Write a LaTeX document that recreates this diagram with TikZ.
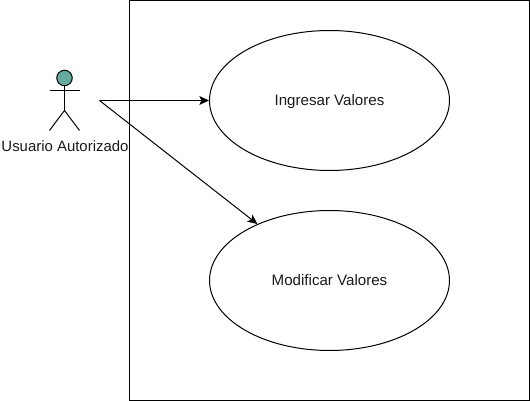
\documentclass[tikz,border=0pt]{standalone}
\usepackage{fontspec}
\setmainfont{Liberation Sans}
\usetikzlibrary{shapes.geometric,arrows.meta}
\definecolor{actorgreen}{HTML}{67AB9F}
\definecolor{labelgray}{HTML}{1A1A1A}
\tikzset{
    usecase/.style={draw, ellipse, minimum width=4.8cm, minimum height=2.8cm, inner sep=0pt, text height=7.2pt, text depth=1.8pt, text=labelgray, node font=\fontsize{8.6}{10}\selectfont},
    actorlabel/.style={draw=none, inner sep=0pt, text=labelgray, node font=\fontsize{8.5}{10}\selectfont},
    assoc/.style={-{Stealth[length=5.5pt,width=5pt,inset=1.2pt]}}
}
\begin{document}
\begin{tikzpicture}[x=0.02cm, y=-0.02cm, line width=0.567pt]

    \useasboundingbox (0,0) rectangle (530,401);

    \node[draw, minimum width=8cm, minimum height=8cm, inner sep=0pt] (sistema) at (329.5,200.5) {};

    \node[usecase] (ingresar) at (329.5,100.5) {Ingresar Valores};
    \node[usecase] (modificar) at (329.5,280.5) {Modificar Valores};

    \node[draw, circle, fill=actorgreen, minimum size=0.31cm, inner sep=0pt] (cabeza) at (64.5,78) {};
    \coordinate (cadera) at (64.5,110.5);
    \coordinate (brazoizq) at (49.5,90.5);
    \coordinate (brazoder) at (79.5,90.5);
    \coordinate (pieizq) at (49.5,130.5);
    \coordinate (pieder) at (79.5,130.5);
    \coordinate (usuario) at (99.5,100.5);

    \draw (cabeza.south) -- (cadera);
    \draw (brazoizq) -- (brazoder);
    \draw (pieizq) -- (cadera) -- (pieder);

    \node[actorlabel] (autorizado) at (65,146) {Usuario Autorizado};

    \draw[assoc] (usuario) -- (ingresar);
    \draw[assoc] (usuario) -- (modificar);

\end{tikzpicture}
\end{document}
